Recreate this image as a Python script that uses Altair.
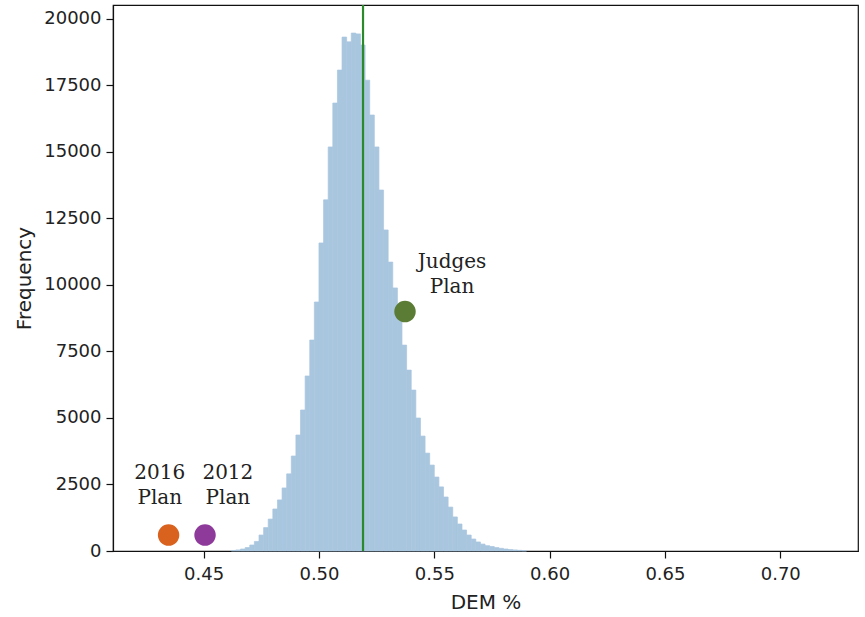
import altair as alt
import pandas as pd

# Histogram bins (bin starts, width 0.002) and frequencies
bin_start = [0.462, 0.464, 0.466, 0.468, 0.470, 0.472, 0.474, 0.476, 0.478, 0.480,
             0.482, 0.484, 0.486, 0.488, 0.490, 0.492, 0.494, 0.496, 0.498, 0.500,
             0.502, 0.504, 0.506, 0.508, 0.510, 0.512, 0.514, 0.516, 0.518, 0.520,
             0.522, 0.524, 0.526, 0.528, 0.530, 0.532, 0.534, 0.536, 0.538, 0.540,
             0.542, 0.544, 0.546, 0.548, 0.550, 0.552, 0.554, 0.556, 0.558, 0.560,
             0.562, 0.564, 0.566, 0.568, 0.570, 0.572, 0.574, 0.576, 0.578, 0.580,
             0.582, 0.584, 0.586, 0.588]
freq = [20, 40, 75, 130, 225, 360, 600, 880, 1200, 1580,
        1920, 2370, 2900, 3570, 4360, 5300, 6580, 7930, 9360, 11580,
        13200, 15190, 16840, 18080, 19320, 19140, 19470, 19440, 19020, 17700,
        16390, 15190, 13570, 12070, 10860, 9890, 8990, 7740, 6800, 6050,
        5000, 4320, 3680, 3230, 2780, 2410, 2030, 1650, 1280, 1015,
        790, 600, 450, 340, 260, 200, 170, 130, 100, 75,
        55, 40, 25, 12]
bin_width = 0.002

# Plans
plan_names = ["2016 Plan", "2012 Plan", "Judges Plan"]
plan_x = [0.4348, 0.4506, 0.5373]
plan_y = [600, 600, 9000]
plan_colors = ["#d9621f", "#8e3a9b", "#5b7c35"]

# Mean line
mean_x = [0.5191]

# Annotations
ann_text = ["2016", "Plan", "2012", "Plan", "Judges", "Plan"]
ann_x = [0.431, 0.431, 0.4605, 0.4605, 0.5577, 0.5577]
ann_y = [2930, 1990, 2930, 1990, 10880, 9925]

x_ticks = [0.45, 0.50, 0.55, 0.60, 0.65, 0.70]
y_ticks = [0, 2500, 5000, 7500, 10000, 12500, 15000, 17500, 20000]

hist_df = pd.DataFrame({
    "start": bin_start,
    "end": [b + bin_width for b in bin_start],
    "freq": freq,
})
plan_df = pd.DataFrame({"name": plan_names, "x": plan_x, "y": plan_y})
mean_df = pd.DataFrame({"x": mean_x})
ann_df = pd.DataFrame({"t": ann_text, "x": ann_x, "y": ann_y})

xscale = alt.Scale(domain=[0.4107, 0.7337], nice=False, zero=False)
yscale = alt.Scale(domain=[0, 20526], nice=False)

xaxis = alt.Axis(values=x_ticks, format=".2f", title="DEM %", grid=False,
                 tickSize=7, labelPadding=7, titlePadding=9)
yaxis = alt.Axis(values=y_ticks, format="d", title="Frequency", grid=False,
                 tickSize=7, labelPadding=5, titlePadding=9)

hist = alt.Chart(hist_df).mark_bar(color="#a9c6df", stroke="#a9c6df", strokeWidth=0.7).encode(
    x=alt.X("start:Q", scale=xscale, axis=xaxis),
    x2="end:Q",
    y=alt.Y("freq:Q", scale=yscale, axis=yaxis),
    y2=alt.datum(0),
)

rule = alt.Chart(mean_df).mark_rule(color="#2b8a2b", strokeWidth=2.2).encode(
    x=alt.X("x:Q", scale=xscale),
)

dots = alt.Chart(plan_df).mark_circle(size=460, opacity=1).encode(
    x=alt.X("x:Q", scale=xscale),
    y=alt.Y("y:Q", scale=yscale),
    color=alt.Color("name:N", scale=alt.Scale(domain=plan_names, range=plan_colors), legend=None),
)

texts = alt.Chart(ann_df).mark_text(font="DejaVu Serif", fontSize=20, color="#222222",
                                    align="center", baseline="middle").encode(
    x=alt.X("x:Q", scale=xscale),
    y=alt.Y("y:Q", scale=yscale),
    text="t:N",
)

chart = alt.layer(hist, rule, dots, texts).properties(
    width=745, height=546,
    padding={"left": 113, "top": 5, "right": 7, "bottom": 66},
    autosize=alt.AutoSizeParams(type="none"),
).configure_view(
    stroke="#111111", strokeWidth=1.2,
).configure_axis(
    domainColor="#111111", tickColor="#111111", labelColor="#222222", titleColor="#222222",
    labelFont="DejaVu Sans", titleFont="DejaVu Sans", labelFontSize=18, titleFontSize=20,
    titleFontWeight="normal", domainWidth=1.2, tickWidth=1.2,
)

chart.save("out.html", embed_options={"renderer": "svg", "actions": False})
